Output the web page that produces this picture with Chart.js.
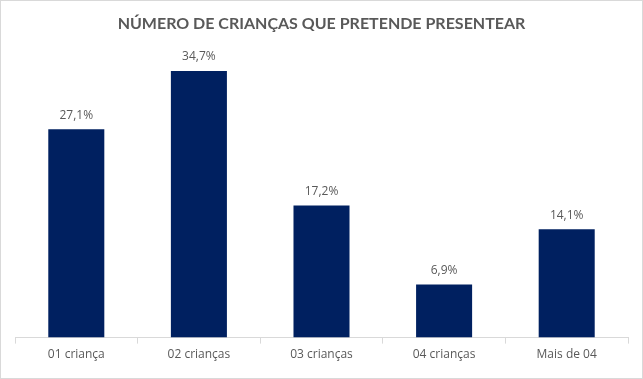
<!DOCTYPE html>
<html>
<head>
<meta charset="utf-8">
<script src="https://cdn.jsdelivr.net/npm/chart.js@4"></script>
<style>
  html, body { margin: 0; padding: 0; background: #fff; }
  #wrap { position: relative; width: 641px; height: 377px; border: 1px solid #d9d9d9; }
</style>
</head>
<body>
<div id="wrap"><canvas id="chart"></canvas></div>
<script>
// --- data ---
const categories = ['01 criança', '02 crianças', '03 crianças', '04 crianças', 'Mais de 04'];
const values = [27.1, 34.7, 17.2, 6.9, 14.1];
const chartTitle = 'NÚMERO DE CRIANÇAS QUE PRETENDE PRESENTEAR';

// labels above bars, comma as decimal separator
const barLabels = {
  id: 'barLabels',
  afterDatasetsDraw(chart) {
    const ctx = chart.ctx;
    const meta = chart.getDatasetMeta(0);
    ctx.save();
    ctx.font = '12px "Open Sans", sans-serif';
    ctx.fillStyle = '#595959';
    ctx.textAlign = 'center';
    ctx.textBaseline = 'middle';
    meta.data.forEach((bar, i) => {
      ctx.fillText(values[i].toFixed(1).replace('.', ',') + '%', bar.x, bar.y - 14);
    });
    ctx.restore();
  }
};

new Chart(document.getElementById('chart'), {
  type: 'bar',
  data: {
    labels: categories,
    datasets: [{
      data: values,
      backgroundColor: '#002060',
      categoryPercentage: 1,
      barPercentage: 0.457
    }]
  },
  options: {
    responsive: true,
    maintainAspectRatio: false,
    animation: false,
    layout: { padding: { left: 14, right: 14, top: 0, bottom: 12 } },
    plugins: {
      legend: { display: false },
      tooltip: { enabled: false },
      title: {
        display: true,
        text: chartTitle,
        color: '#595959',
        font: { family: 'Lato', size: 16, weight: 'bold' },
        padding: { top: 13, bottom: 17 }
      }
    },
    scales: {
      x: {
        grid: { drawOnChartArea: false, drawTicks: true, tickLength: 6, color: '#d9d9d9' },
        border: { color: '#d9d9d9' },
        ticks: { color: '#595959', font: { family: '"Open Sans"', size: 12 }, padding: 4, maxRotation: 0 }
      },
      y: { display: false, min: 0, max: 37.4 }
    }
  },
  plugins: [barLabels]
});
</script>
</body>
</html>
